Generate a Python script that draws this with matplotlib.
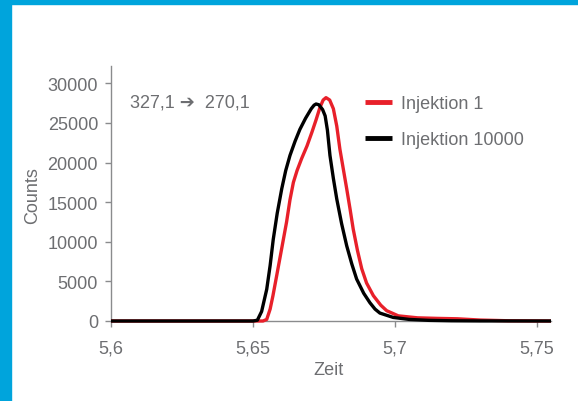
import matplotlib
matplotlib.use("Agg")
import matplotlib.pyplot as plt
from matplotlib.patches import Rectangle

# ---- data ----
black_x = [5.600, 5.650, 5.6515, 5.6530, 5.6548, 5.6560, 5.6571, 5.6585, 5.6601, 5.6615,
           5.6630, 5.6648, 5.6665, 5.6685, 5.6705, 5.6715, 5.6722, 5.6732, 5.6745, 5.6754,
           5.6762, 5.6771, 5.6783, 5.6795, 5.6812, 5.6830, 5.6848, 5.6865, 5.6890, 5.6912,
           5.6930, 5.6947, 5.6994, 5.7050, 5.7120, 5.7200, 5.7300, 5.7550]
black_y = [0, 0, 100, 1200, 4000, 7000, 10300, 13600, 16700, 19000,
           20900, 22700, 24200, 25600, 26800, 27250, 27400, 27300, 26700, 25900,
           24100, 20900, 18000, 15400, 12300, 9500, 7200, 5300, 3500, 2300,
           1500, 1000, 450, 200, 80, 30, 10, 0]

red_x = [5.600, 5.6535, 5.6548, 5.6560, 5.6570, 5.6583, 5.6600, 5.6618, 5.6630, 5.6642,
         5.6655, 5.6671, 5.6690, 5.6707, 5.6722, 5.6736, 5.6747, 5.6757, 5.6770, 5.6783,
         5.6795, 5.6806, 5.6818, 5.6830, 5.6842, 5.6853, 5.6868, 5.6883, 5.6900, 5.6924,
         5.6950, 5.6971, 5.7012, 5.7080, 5.7150, 5.7220, 5.7300, 5.7400, 5.7550]
red_y = [0, 0, 200, 1500, 3200, 5700, 9000, 12500, 15300, 17500,
         19000, 20500, 22100, 23800, 25400, 27000, 27900, 28200, 27900, 26800,
         24600, 21700, 19200, 16700, 14100, 11600, 8900, 6600, 4800, 3200,
         2000, 1300, 650, 400, 330, 280, 120, 30, 0]

x_ticks = [5.6, 5.65, 5.7, 5.75]
x_tick_labels = ["5,6", "5,65", "5,7", "5,75"]
y_ticks = [0, 5000, 10000, 15000, 20000, 25000, 30000]
series_labels = ["Injektion 1", "Injektion 10000"]
annotation = "327,1 \u2794  270,1"

# ---- style ----
FONT = ["Liberation Sans", "DejaVu Sans"]
FS = 13
GRAY = "#6d6e71"
AXGRAY = "#8a8b8d"
RED = "#e8202a"
BLUE = "#00a4dc"

plt.rcParams["font.family"] = FONT

W, H = 578, 402
fig = plt.figure(figsize=(W / 100, H / 100), dpi=100)

# blue frame (top and left)
fig.patches.append(Rectangle((0, 1 - 5 / H), 1, 5 / H, transform=fig.transFigure,
                             color=BLUE, zorder=0))
fig.patches.append(Rectangle((0, 0), 11 / W, 1, transform=fig.transFigure,
                             color=BLUE, zorder=0))

x0, x1 = 111.3, 550.9
ymin, ymax = -200, 32200
ppk = 7.92 / 1000.0
y_zero_px = 322.0
bottom_px = y_zero_px + (0 - ymin) * ppk
top_px = y_zero_px - ymax * ppk
ax_h = bottom_px - top_px
ax = fig.add_axes([x0 / W, (H - bottom_px) / H, (x1 - x0) / W, ax_h / H])
ax.set_facecolor("none")

ax.plot(red_x, red_y, color=RED, lw=2.4, solid_joinstyle="round", solid_capstyle="round",
        label=series_labels[0], zorder=3)
ax.plot(black_x, black_y, color="black", lw=2.4, solid_joinstyle="round",
        solid_capstyle="round", label=series_labels[1], zorder=4)

ax.set_xlim(5.6, 5.755)
ax.set_ylim(ymin, ymax)
ax.spines["top"].set_visible(False)
ax.spines["right"].set_visible(False)
ax.spines["bottom"].set_position(("data", 0))
for s in ("left", "bottom"):
    ax.spines[s].set_color(AXGRAY)
    ax.spines[s].set_linewidth(1.0)
ax.spines["left"].set_bounds(0, ymax)

ax.set_xticks(x_ticks)
ax.set_xticklabels(x_tick_labels)
ax.set_yticks(y_ticks)
ax.tick_params(axis="both", colors=AXGRAY, labelcolor=GRAY, labelsize=FS, length=4.5, width=1)
ax.tick_params(axis="x", pad=9)
ax.tick_params(axis="y", pad=5)

ax.set_xlabel("Zeit", color=GRAY, fontsize=FS)
ax.set_ylabel("Counts", color=GRAY, fontsize=FS)
ax.xaxis.set_label_coords((328 - x0) / (x1 - x0), (bottom_px - 371) / ax_h)
ax.yaxis.set_label_coords((33 - x0) / (x1 - x0), (bottom_px - 196) / ax_h)
ax.xaxis.label.set_va("center")
ax.yaxis.label.set_va("center")

ax.text(130, H - 103, annotation, transform=None, color=GRAY, fontsize=FS,
        ha="left", va="center", family=FONT)

leg = ax.legend(loc="upper left",
                bbox_to_anchor=((365 - x0) / (x1 - x0), (bottom_px - 96) / ax_h),
                frameon=False, fontsize=FS, handlelength=1.5, handletextpad=0.5,
                labelspacing=1.05, borderaxespad=0, borderpad=0)
for t in leg.get_texts():
    t.set_color(GRAY)
for l in leg.get_lines():
    l.set_linewidth(3.5)
    l.set_solid_capstyle("butt")

fig.savefig("out.png", dpi=100)
